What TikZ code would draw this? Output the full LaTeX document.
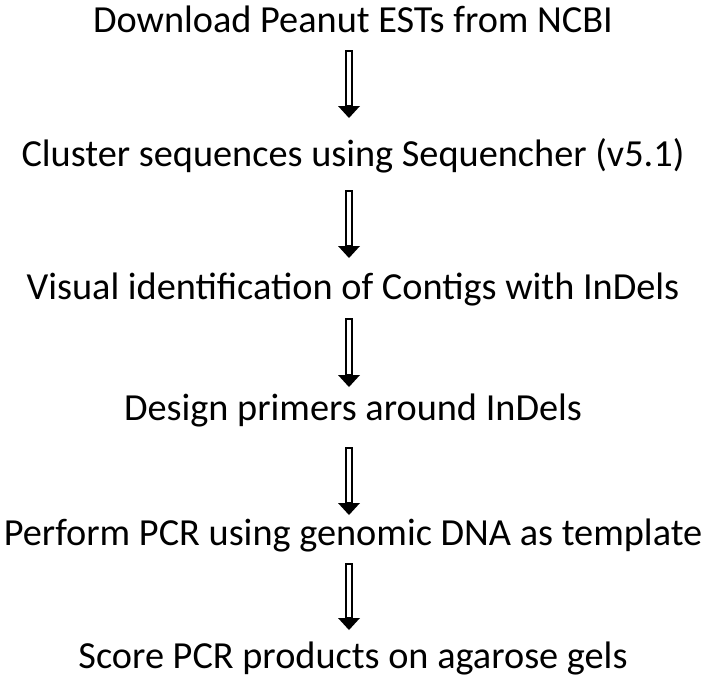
\documentclass[tikz,border=0pt]{standalone}
\usepackage{fontspec}
\setmainfont{Carlito}
\begin{document}
\begin{tikzpicture}[x=1pt,y=-1pt,
  steptext/.style={anchor=base, inner sep=0pt, font=\fontsize{38.3}{44}\selectfont},
  shaft/.style={draw=black, line width=2.4pt, fill=white},
  head/.style={fill=black}]
\useasboundingbox (0,0) rectangle (708,683);
\fill[white] (0,0) rectangle (708,683);
\node[steptext] (s1) at (353,32) {Download Peanut ESTs from NCBI};
\node[steptext] (s2) at (353,166) {Cluster sequences using Sequencher (v5.1)};
\node[steptext] (s3) at (353,299) {Visual identification of Contigs with InDels};
\node[steptext] (s4) at (353,420) {Design primers around InDels};
\node[steptext] (s5) at (353,545) {Perform PCR using genomic DNA as template};
\node[steptext] (s6) at (353,668) {Score PCR products on agarose gels};
\foreach \i/\t/\b in {1/50/118, 2/190/258, 3/318/387, 4/447/515, 5/563/630}{
  \coordinate (a\i t) at (349,\t);
  \coordinate (a\i b) at (349,\b);
  \path[shaft] ([xshift=-3.05pt,yshift=-1.2pt]a\i t) rectangle ([xshift=3.05pt,yshift=12pt]a\i b);
  \path[head] ([xshift=-11pt,yshift=12pt]a\i b) -- (a\i b) -- ([xshift=11pt,yshift=12pt]a\i b) -- cycle;
}
\end{tikzpicture}
\end{document}
